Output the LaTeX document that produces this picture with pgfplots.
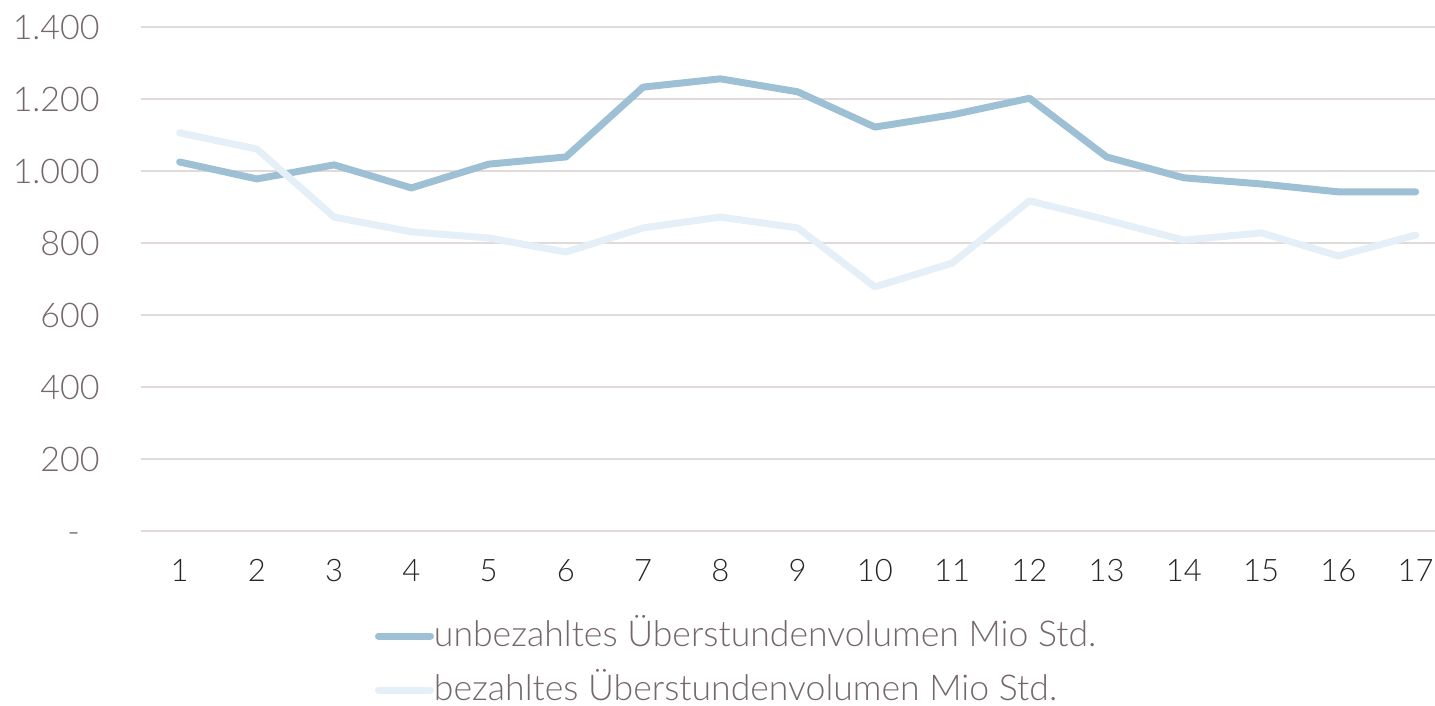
\documentclass[border=0pt]{standalone}
\usepackage{pgfplots}
\pgfplotsset{compat=1.18}
\usepackage{fontspec}
\setmainfont{Lato Light}
\definecolor{txt}{HTML}{756769}
\definecolor{darkc}{HTML}{9DC0D4}
\definecolor{lightc}{HTML}{E5EFF7}
\definecolor{gridc}{HTML}{E0DADB}
\begin{document}
\begin{tikzpicture}
\path[use as bounding box] (-70.5pt,-87.5pt) rectangle (647pt,265.5pt);
\begin{axis}[
  scale only axis,
  width=647pt, height=252pt,
  xmin=0.5, xmax=17.25,
  ymin=0, ymax=1400,
  axis line style={draw=none},
  major tick length=0pt,
  tick style={draw=none},
  xmajorgrids=false,
  ymajorgrids=true,
  major grid style={draw=gridc, line width=1pt},
  xtick={1,...,17},
  ytick={0,200,400,600,800,1000,1200,1400},
  yticklabels={{-\phantom{0}},200,400,600,800,{1.000},{1.200},{1.400}},
  /pgf/number format/assume math mode=true,
  yticklabel style={font=\fontsize{17}{20}\selectfont, text=txt, anchor=east, inner sep=0pt, xshift=-20.5pt},
  xticklabel style={font=\fontsize{15.5}{18}\selectfont, text=black!85, anchor=north, inner sep=0pt, yshift=-14pt},
  legend cell align=left,
  legend style={
    at={(axis description cs:0.1808,-0.1806)}, anchor=north west,
    draw=none, fill=none, inner sep=0pt, outer sep=0pt,
    font=\fontsize{17.8}{20}\selectfont, text=txt,
    row sep=11pt, column sep=0pt,
    nodes={inner sep=0pt, text height=12pt, text depth=4pt},
  },
  legend image code/.code={\draw[#1] (0pt,1pt) -- (26pt,1pt);},
]
\addplot[darkc, line width=3.5pt, line join=round, line cap=round] coordinates {
(1,1025) (2,978) (3,1017) (4,953) (5,1019) (6,1039) (7,1233) (8,1256) (9,1220)
(10,1122) (11,1156) (12,1202) (13,1039) (14,981) (15,964) (16,942) (17,942)};
\addlegendentry{unbezahltes Überstundenvolumen Mio Std.}
\addplot[lightc, line width=3.5pt, line join=round, line cap=round] coordinates {
(1,1106) (2,1061) (3,872) (4,831) (5,814) (6,775) (7,842) (8,872) (9,842)
(10,678) (11,744) (12,917) (13,864) (14,808) (15,828) (16,764) (17,822)};
\addlegendentry{bezahltes Überstundenvolumen Mio Std.}
\end{axis}
\end{tikzpicture}
\end{document}
